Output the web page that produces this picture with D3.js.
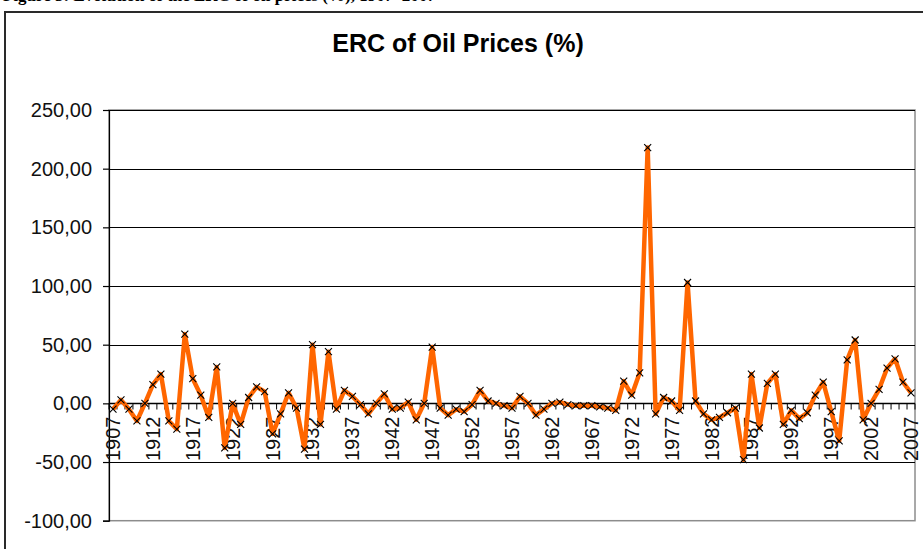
<!DOCTYPE html>
<html>
<head>
<meta charset="utf-8">
<script src="https://cdn.jsdelivr.net/npm/d3@7"></script>
<style>
  body { margin: 0; background: #fff; }
  svg { display: block; }
</style>
</head>
<body>
<div id="chart"></div>
<script>
// categories: one per year
var years = d3.range(1907, 2008);

// ERC of oil prices (%)
var ercValues = [
  -5, 3, -5, -15, 0, 16, 25, -15, -22, 59,      // 1907-1916
  21, 7, -12, 31, -38, 0, -18, 5, 14, 10,       // 1917-1926
  -26, -9, 9, -4, -39, 50, -18, 44, -5, 11,     // 1927-1936
  6, -1, -9, 0, 8, -5, -4, 1, -14, 0,           // 1937-1946
  48, -4, -10, -5, -7, -1, 11, 2, 0, -2,        // 1947-1956
  -4, 6, 0, -10, -5, 0, 1, -1, -2, -2,          // 1957-1966
  -2, -3, -4, -6, 19, 7, 26, 218, -9, 5,        // 1967-1976
  2, -6, 103, 2, -9, -14, -12, -8, -4, -48,     // 1977-1986
  25, -21, 17, 25, -18, -6, -13, -8, 7, 18,     // 1987-1996
  -7, -32, 37, 54, -14, 0, 12, 30, 38, 18,      // 1997-2006
  9                                             // 2007
];

var yTicks = [-100, -50, 0, 50, 100, 150, 200, 250];
var labelYears = [1907, 1912, 1917, 1922, 1927, 1932, 1937, 1942, 1947, 1952, 1957,
                  1962, 1967, 1972, 1977, 1982, 1987, 1992, 1997, 2002, 2007];

var width = 923, height = 549;
var plot = {left: 109, right: 915, top: 110, bottom: 520.7};
var sans = 'Arial, "Liberation Sans", sans-serif';

var data = years.map(function (yr, i) { return {year: yr, value: ercValues[i]}; });

var svg = d3.select('#chart')
  .append('svg')
  .attr('width', width)
  .attr('height', height);

// caption of the source document, mostly cut off at the top edge
svg.append('text')
  .attr('x', 3)
  .attr('y', 1)
  .attr('font-family', 'Times New Roman, "Liberation Serif", serif')
  .attr('font-weight', 'bold')
  .attr('font-size', 17)
  .text('Figure 5: Evolution of the ERC of oil prices (%), 1907–2007');

// chart area border
svg.append('rect')
  .attr('x', 5)
  .attr('y', 12)
  .attr('width', 1000)
  .attr('height', 1000)
  .attr('fill', '#fff')
  .attr('stroke', '#2a2a2a')
  .attr('stroke-width', 2);

svg.append('text')
  .attr('x', 458)
  .attr('y', 52)
  .attr('text-anchor', 'middle')
  .attr('font-family', sans)
  .attr('font-weight', 'bold')
  .attr('font-size', 25)
  .text('ERC of Oil Prices (%)');

var xScale = d3.scaleBand()
  .domain(years)
  .range([plot.left, plot.right])
  .padding(0);
var bw = xScale.bandwidth();

var yScale = d3.scaleLinear()
  .domain([-100, 250])
  .range([plot.bottom, plot.top]);

// plot area border (grey)
svg.append('rect')
  .attr('x', plot.left)
  .attr('y', plot.top)
  .attr('width', plot.right - plot.left)
  .attr('height', plot.bottom - plot.top)
  .attr('fill', 'none')
  .attr('stroke', '#8c8c8c')
  .attr('stroke-width', 1.5);

// gridlines
svg.append('g')
  .selectAll('line')
  .data(yTicks.filter(function (d) { return d > -100; }))
  .enter()
  .append('line')
  .attr('x1', plot.left)
  .attr('x2', plot.right)
  .attr('y1', function (d) { return Math.round(yScale(d)) + 0.5; })
  .attr('y2', function (d) { return Math.round(yScale(d)) + 0.5; })
  .attr('stroke', '#000')
  .attr('stroke-width', 1.2);

// y axis
var yAxis = d3.axisLeft(yScale)
  .tickValues(yTicks)
  .tickSize(6)
  .tickPadding(11)
  .tickFormat(function (d) { return d3.format('.2f')(d).replace('.', ',').replace('−', '-'); });

var gy = svg.append('g')
  .attr('transform', 'translate(' + plot.left + ',0)')
  .call(yAxis);
gy.select('.domain').attr('stroke', '#000').attr('stroke-width', 1.2);
gy.selectAll('.tick line').attr('stroke', '#000').attr('stroke-width', 1.2);
gy.selectAll('text')
  .attr('font-family', sans)
  .attr('font-size', 20)
  .attr('fill', '#111');

// x axis at zero, ticks between categories
var y0 = Math.round(yScale(0)) + 0.5;
var gx = svg.append('g');
gx.append('line')
  .attr('x1', plot.left)
  .attr('x2', plot.right)
  .attr('y1', y0)
  .attr('y2', y0)
  .attr('stroke', '#000')
  .attr('stroke-width', 1.4);
gx.selectAll('line.tick')
  .data(years.concat(['end']))
  .enter()
  .append('line')
  .attr('class', 'tick')
  .attr('x1', function (d) { return d === 'end' ? plot.right : xScale(d); })
  .attr('x2', function (d) { return d === 'end' ? plot.right : xScale(d); })
  .attr('y1', y0)
  .attr('y2', y0 + 6)
  .attr('stroke', '#000')
  .attr('stroke-width', 1);
gx.selectAll('text')
  .data(labelYears)
  .enter()
  .append('text')
  .attr('transform', function (d) {
    return 'translate(' + (xScale(d) + bw / 2) + ',' + (y0 + 13) + ') rotate(-90)';
  })
  .attr('dy', '0.35em')
  .attr('text-anchor', 'end')
  .attr('font-family', sans)
  .attr('font-size', 20)
  .attr('fill', '#111')
  .text(function (d) { return d; });

// series line
var line = d3.line()
  .x(function (d) { return xScale(d.year) + bw / 2; })
  .y(function (d) { return yScale(d.value); });

svg.append('path')
  .datum(data)
  .attr('d', line)
  .attr('fill', 'none')
  .attr('stroke', '#ff6600')
  .attr('stroke-width', 4.5)
  .attr('stroke-linejoin', 'round');

// x markers
svg.append('g')
  .selectAll('path')
  .data(data)
  .enter()
  .append('path')
  .attr('transform', function (d) {
    return 'translate(' + (xScale(d.year) + bw / 2) + ',' + yScale(d.value) + ')';
  })
  .attr('d', 'M-3.5,-3.5L3.5,3.5M-3.5,3.5L3.5,-3.5')
  .attr('stroke', '#000')
  .attr('stroke-width', 1.1);
</script>
</body>
</html>
